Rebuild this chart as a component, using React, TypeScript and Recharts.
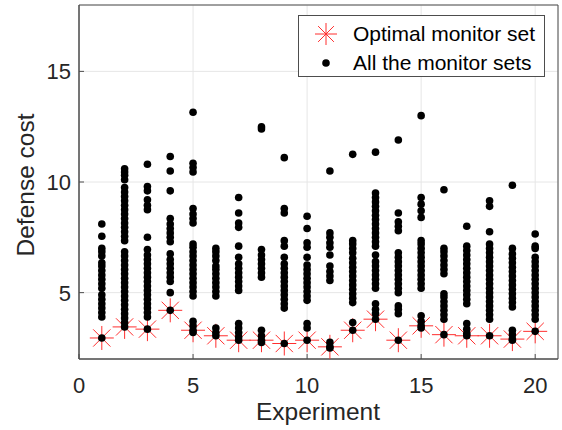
import { CartesianGrid, ReferenceArea, Scatter, ScatterChart, XAxis, YAxis } from "recharts";

const FONT = "'Liberation Sans', Arial, Helvetica, sans-serif";
const TEXT = "#262626";
const AXIS = "#4d4d4d";
const RED = "#ff2e2e";

// Эксперименты 1..20, стоимость оптимального набора и всех наборов мониторов
const experiments = [1, 2, 3, 4, 5, 6, 7, 8, 9, 10, 11, 12, 13, 14, 15, 16, 17, 18, 19, 20];
const optimalCost = [2.95, 3.45, 3.35, 4.2, 3.3, 3.05, 2.85, 2.85, 2.7, 2.85, 2.55, 3.3, 3.8, 2.85, 3.5, 3.1, 3.05, 3.05, 2.9, 3.25];
const allSetCosts: number[][] = [
  [2.95, 3.9, 4.1, 4.3, 4.5, 4.7, 4.9, 5.2, 5.4, 5.6, 5.8, 6.0, 6.2, 6.35, 6.65, 6.85, 7.0, 7.55, 8.1],
  [3.45, 3.65, 3.85, 4.05, 4.25, 4.45, 4.65, 4.85, 5.05, 5.25, 5.45, 5.65, 5.85, 6.05, 6.25, 6.45, 6.65, 6.85, 7.35, 7.55, 7.75, 7.95, 8.15, 8.35, 8.55, 8.75, 8.95, 9.15, 9.35, 9.55, 9.75, 10.1, 10.3, 10.45, 10.6],
  [3.35, 3.9, 4.1, 4.3, 4.5, 4.7, 4.9, 5.1, 5.3, 5.5, 5.7, 5.9, 6.1, 6.3, 6.5, 6.7, 6.95, 7.5, 8.75, 8.95, 9.2, 9.6, 9.8, 10.8],
  [4.2, 5.0, 5.5, 5.7, 5.9, 6.1, 6.3, 6.5, 6.75, 7.3, 7.5, 7.7, 7.9, 8.1, 8.35, 9.6, 10.5, 11.15],
  [3.2, 3.3, 3.5, 3.7, 4.85, 5.05, 5.25, 5.45, 5.65, 5.85, 6.05, 6.25, 6.45, 6.65, 6.85, 7.05, 7.2, 8.15, 8.35, 8.55, 8.8, 10.45, 10.65, 10.85, 13.15],
  [3.05, 3.2, 3.4, 4.85, 5.05, 5.25, 5.45, 5.65, 5.85, 6.05, 6.2, 6.45, 6.65, 6.85, 7.0],
  [2.85, 3.0, 3.2, 3.4, 3.6, 5.1, 5.3, 5.5, 5.7, 5.9, 6.1, 6.3, 6.6, 7.1, 7.95, 8.15, 8.6, 9.3],
  [2.75, 2.85, 3.05, 3.3, 5.7, 5.9, 6.1, 6.3, 6.5, 6.7, 6.95, 12.4, 12.5],
  [2.7, 4.3, 4.5, 4.7, 4.9, 5.1, 5.3, 5.5, 5.7, 5.9, 6.1, 6.3, 6.6, 7.1, 7.35, 8.6, 8.8, 11.1],
  [2.85, 3.4, 3.6, 4.65, 4.85, 5.05, 5.25, 5.45, 5.65, 5.85, 6.05, 6.25, 6.6, 7.05, 7.25, 7.9, 8.45],
  [2.5, 2.55, 2.75, 5.55, 5.75, 5.95, 6.2, 6.7, 7.05, 7.25, 7.5, 7.7, 10.5],
  [3.3, 3.65, 4.55, 4.75, 4.95, 5.15, 5.35, 5.55, 5.75, 5.95, 6.15, 6.35, 6.55, 6.8, 7.0, 7.2, 7.35, 11.25],
  [3.8, 4.05, 4.25, 4.5, 5.2, 5.4, 5.6, 5.8, 6.0, 6.2, 6.4, 6.7, 7.1, 7.3, 7.5, 7.7, 7.9, 8.1, 8.3, 8.5, 8.7, 8.9, 9.1, 9.3, 9.5, 11.35],
  [2.85, 4.05, 4.25, 4.4, 5.0, 5.2, 5.4, 5.6, 5.8, 6.0, 6.2, 6.4, 6.6, 6.8, 7.8, 8.0, 8.2, 8.6, 11.9],
  [3.4, 3.5, 3.7, 3.95, 5.2, 5.4, 5.6, 5.8, 6.0, 6.2, 6.4, 6.6, 6.8, 7.0, 7.2, 7.35, 8.4, 8.7, 9.0, 9.3, 13.0],
  [3.1, 3.8, 4.0, 4.2, 4.4, 4.6, 4.8, 4.95, 5.85, 6.05, 6.25, 6.45, 6.65, 6.85, 7.0, 9.65],
  [3.05, 3.15, 3.35, 3.6, 4.5, 4.7, 4.9, 5.1, 5.3, 5.5, 5.7, 5.9, 6.1, 6.3, 6.5, 6.7, 6.9, 7.1, 8.0],
  [3.05, 3.8, 4.0, 4.2, 4.4, 4.6, 4.8, 5.0, 5.2, 5.4, 5.6, 5.8, 6.0, 6.2, 6.4, 6.6, 6.8, 7.0, 7.2, 7.75, 8.9, 9.15],
  [2.85, 2.9, 3.1, 3.3, 4.35, 4.55, 4.75, 4.95, 5.15, 5.35, 5.55, 5.75, 5.95, 6.15, 6.35, 6.55, 6.75, 7.0, 9.85],
  [3.25, 3.8, 4.0, 4.2, 4.4, 4.6, 4.8, 5.0, 5.2, 5.4, 5.6, 5.8, 6.0, 6.2, 6.4, 6.6, 7.0, 7.1, 7.65],
];
const xTicks = [0, 5, 10, 15, 20];
const yTicks = [5, 10, 15];

const optimalPoints = experiments.map((e, i) => ({ x: e, y: optimalCost[i] }));
const allPoints = experiments.flatMap((e, i) => allSetCosts[i].map((c) => ({ x: e, y: c })));

function Asterisk({ cx, cy, r = 12 }: { cx: number; cy: number; r?: number }) {
  const d = r * 0.72;
  return (
    <g stroke={RED} strokeWidth={1} fill="none">
      <line x1={cx - r} y1={cy} x2={cx + r} y2={cy} />
      <line x1={cx} y1={cy - r} x2={cx} y2={cy + r} />
      <line x1={cx - d} y1={cy - d} x2={cx + d} y2={cy + d} />
      <line x1={cx - d} y1={cy + d} x2={cx + d} y2={cy - d} />
    </g>
  );
}

const Dot = (p: any) => <circle cx={p.cx} cy={p.cy} r={3.8} fill="#000" />;
const Star = (p: any) => <Asterisk cx={p.cx} cy={p.cy} />;

const BottomTick = ({ x, y, payload }: any) => (
  <g>
    <line x1={x} y1={y} x2={x} y2={y - 5} stroke={AXIS} />
    <text x={x} y={y + 34} textAnchor="middle" fontSize={22} fill={TEXT} fontFamily={FONT}>
      {payload.value}
    </text>
  </g>
);
const TopTick = ({ x, y }: any) => <line x1={x} y1={y} x2={x} y2={y + 5} stroke={AXIS} />;
const LeftTick = ({ x, y, payload }: any) => (
  <g>
    <line x1={x} y1={y} x2={x + 5} y2={y} stroke={AXIS} />
    <text x={x - 8} y={y + 8} textAnchor="end" fontSize={22} fill={TEXT} fontFamily={FONT}>
      {payload.value}
    </text>
  </g>
);
const RightTick = ({ x, y }: any) => <line x1={x} y1={y} x2={x - 5} y2={y} stroke={AXIS} />;

function LegendBox() {
  return (
    <div
      style={{
        position: "absolute",
        left: 298,
        top: 15,
        width: 245,
        height: 60,
        border: `1px solid ${AXIS}`,
        background: "#fff",
        fontFamily: FONT,
        fontSize: 21,
        color: "#000",
      }}
    >
      <svg width={50} height={60} style={{ position: "absolute", left: 0, top: 0 }}>
        <Asterisk cx={27} cy={18} r={11} />
        <circle cx={27} cy={47} r={3.8} fill="#000" />
      </svg>
      <div style={{ position: "absolute", left: 54, top: 5, lineHeight: "26px" }}>Optimal monitor set</div>
      <div style={{ position: "absolute", left: 54, top: 34, lineHeight: "26px" }}>All the monitor sets</div>
    </div>
  );
}

export default function App() {
  return (
    <div style={{ position: "absolute", left: 0, top: 0, width: 562, height: 430, background: "#fff" }}>
      <ScatterChart width={562} height={430} margin={{ top: 5, right: 4, bottom: 0, left: 0 }}>
        <CartesianGrid stroke="#e6e6e6" />
        <XAxis
          type="number"
          dataKey="x"
          domain={[0, 21]}
          ticks={xTicks}
          height={71}
          stroke={AXIS}
          tickLine={false}
          tickSize={0}
          tickMargin={0}
          tick={BottomTick}
          label={{
            content: () => (
              <text x={318} y={420} textAnchor="middle" fontSize={24.5} fill={TEXT} fontFamily={FONT}>
                Experiment
              </text>
            ),
          }}
        />
        <XAxis xAxisId="top" orientation="top" type="number" domain={[0, 21]} ticks={xTicks} height={0} stroke={AXIS} tickLine={false} tickSize={0} tickMargin={0} tick={TopTick} />
        <YAxis
          type="number"
          dataKey="y"
          domain={[2, 18]}
          ticks={yTicks}
          width={79}
          stroke={AXIS}
          tickLine={false}
          tickSize={0}
          tickMargin={0}
          tick={LeftTick}
          label={{
            content: () => (
              <text transform="translate(34,185) rotate(-90)" textAnchor="middle" fontSize={24.5} fill={TEXT} fontFamily={FONT}>
                Defense cost
              </text>
            ),
          }}
        />
        <YAxis yAxisId="right" orientation="right" type="number" domain={[2, 18]} ticks={yTicks} width={0} stroke={AXIS} tickLine={false} tickSize={0} tickMargin={0} tick={RightTick} />
        <ReferenceArea x1={0} x2={21} y1={2} y2={18} fill="none" stroke={AXIS} strokeOpacity={1} ifOverflow="extendDomain" />
        <Scatter name="Optimal monitor set" data={optimalPoints} shape={Star} isAnimationActive={false} />
        <Scatter name="All the monitor sets" data={allPoints} shape={Dot} isAnimationActive={false} />
      </ScatterChart>
      <LegendBox />
    </div>
  );
}
